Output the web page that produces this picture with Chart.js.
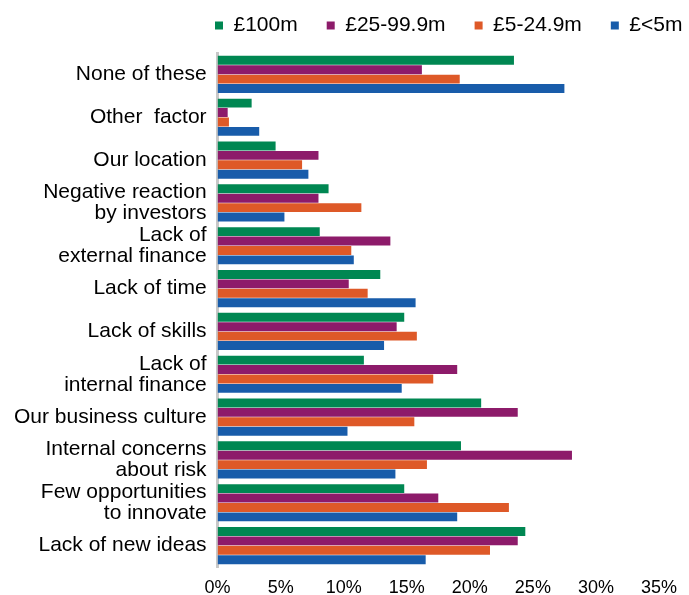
<!DOCTYPE html>
<html>
<head>
<meta charset="utf-8">
<script src="https://cdn.jsdelivr.net/npm/chart.js@4.4.1/dist/chart.umd.min.js"></script>
<style>
  body { margin: 0; background: #fff; }
  #wrap { width: 689px; height: 595px; }
</style>
</head>
<body>
<div id="wrap"><canvas id="myChart" width="689" height="595"></canvas></div>
<script>
const categories = [
  'None of these',
  'Other  factor',
  'Our location',
  ['Negative reaction', 'by investors'],
  ['Lack of', 'external finance'],
  'Lack of time',
  'Lack of skills',
  ['Lack of', 'internal finance'],
  'Our business culture',
  ['Internal concerns', 'about risk'],
  ['Few opportunities', 'to innovate'],
  'Lack of new ideas'
];
const seriesNames = ['£100m', '£25-99.9m', '£5-24.9m', '£<5m'];
const big = [23.5, 2.7, 4.6, 8.8, 8.1, 12.9, 14.8, 11.6, 20.9, 19.3, 14.8, 24.4];
const upper = [16.2, 0.8, 8.0, 8.0, 13.7, 10.4, 14.2, 19.0, 23.8, 28.1, 17.5, 23.8];
const middle = [19.2, 0.9, 6.7, 11.4, 10.6, 11.9, 15.8, 17.1, 15.6, 16.6, 23.1, 21.6];
const small = [27.5, 3.3, 7.2, 5.3, 10.8, 15.7, 13.2, 14.6, 10.3, 14.1, 19.0, 16.5];
const xTicks = [0, 5, 10, 15, 20, 25, 30, 35];

const colours = ['rgb(0,135,82)', 'rgb(141,27,106)', 'rgb(222,89,40)', 'rgb(24,92,170)'];
const font = '"Liberation Sans", Arial, sans-serif';
Chart.defaults.font.family = font;
Chart.defaults.color = '#000';

const data = {
  labels: categories,
  datasets: [big, upper, middle, small].map((vals, i) => ({
    label: seriesNames[i],
    data: vals,
    backgroundColor: colours[i],
    borderWidth: 0,
    categoryPercentage: 0.88,
    barPercentage: 0.95
  }))
};

// nudge the legend so it sits where the original one does
const legendNudge = {
  id: 'legendNudge',
  afterLayout(chart) {
    const lg = chart.legend;
    const shift = 215 - (lg.right - lg.lineWidths[0]);
    lg.left += shift;
    lg.right += shift;
    lg.top = -14;
  }
};

const config = {
  type: 'bar',
  data,
  options: {
    indexAxis: 'y',
    responsive: false,
    animation: false,
    layout: { padding: { left: 3, right: 28, top: 0, bottom: -14 } },
    plugins: {
      legend: {
        position: 'top',
        align: 'end',
        maxHeight: 53,
        labels: {
          boxWidth: 8,
          boxHeight: 8,
          padding: 29,
          font: { size: 21 }
        }
      },
      tooltip: { enabled: false }
    },
    scales: {
      x: {
        min: 0,
        max: 35,
        afterBuildTicks(axis) { axis.ticks = xTicks.map(v => ({ value: v })); },
        grid: { display: false, drawTicks: false },
        border: { display: false },
        ticks: {
          padding: 12,
          font: { size: 18, lineHeight: 1 },
          callback: v => v + '%'
        }
      },
      y: {
        grid: { display: false, drawTicks: false },
        border: { display: true, color: '#c8c8c8', width: 3 },
        ticks: {
          autoSkip: false,
          padding: 11,
          font: { size: 21, lineHeight: 1 }
        }
      }
    }
  },
  plugins: [legendNudge]
};

const myChart = new Chart(document.getElementById('myChart'), config);
</script>
</body>
</html>
